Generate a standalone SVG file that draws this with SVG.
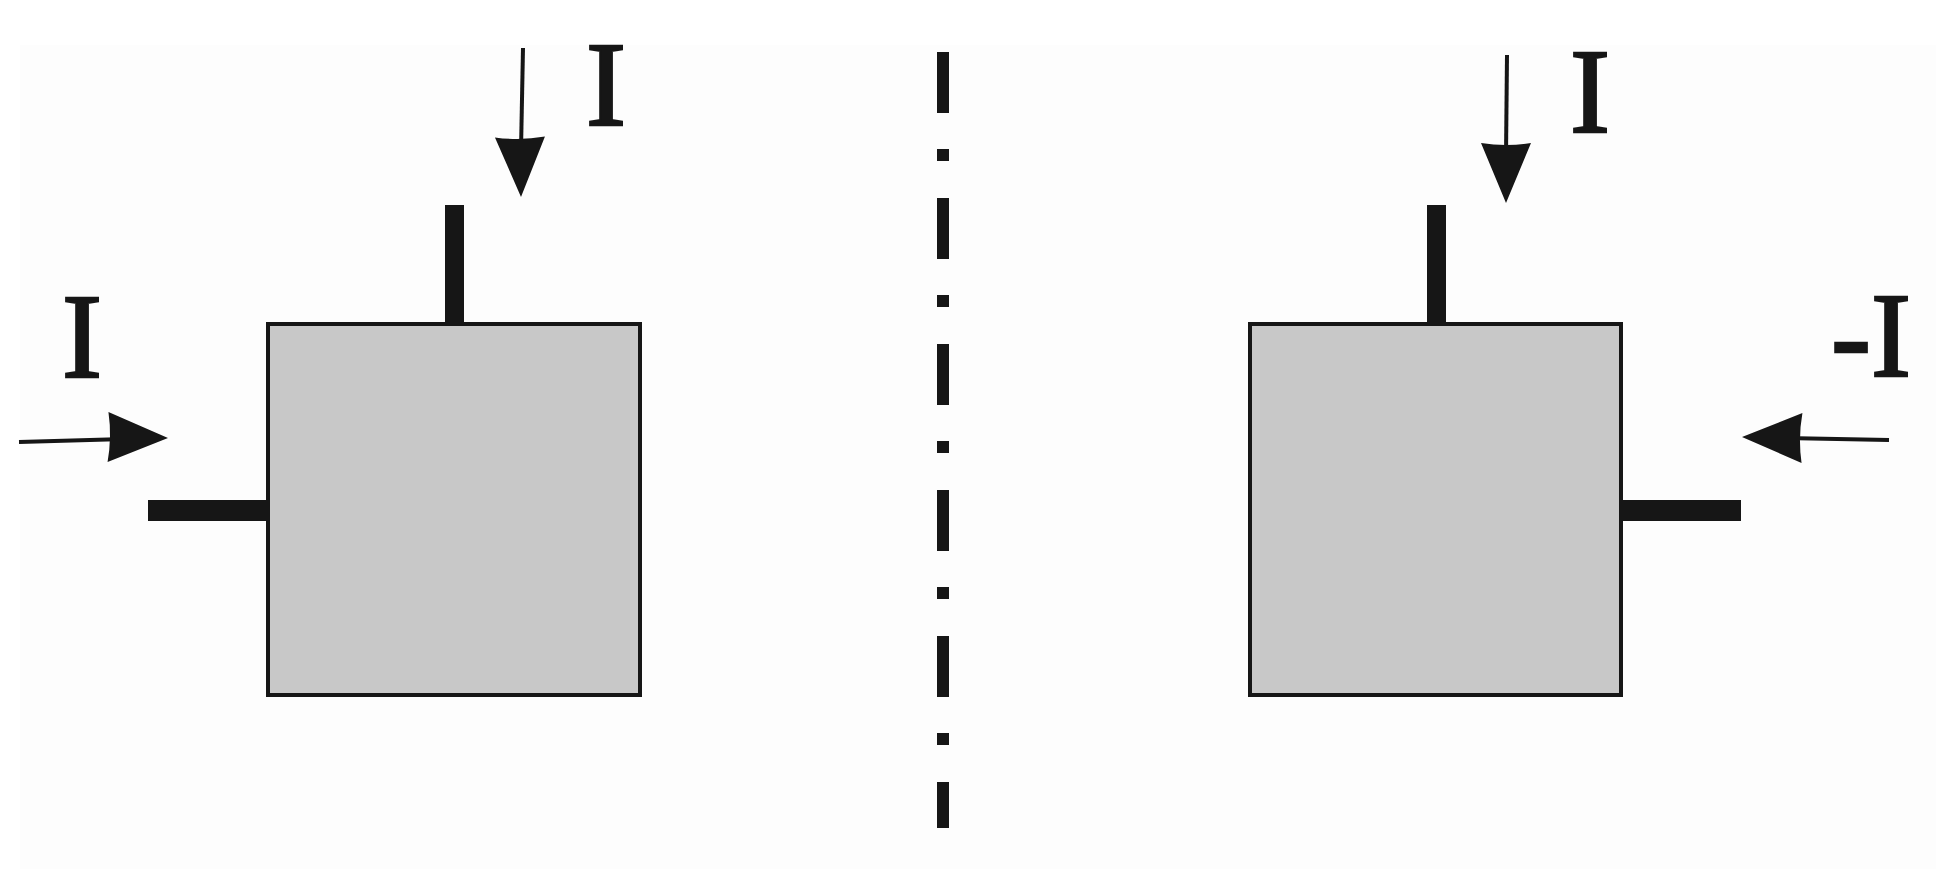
<svg xmlns="http://www.w3.org/2000/svg" width="1936" height="869" viewBox="0 0 1936 869">
<style>
.box{fill:#c8c8c8;stroke:#161616;stroke-width:4}
.stub{fill:#161616}
.wire{stroke:#161616;stroke-width:4;fill:none}
.head{fill:#161616}
.lbl{font-family:"Liberation Serif","Times New Roman",serif;font-size:120px;fill:#161616;stroke:#161616;stroke-width:2.5}
.axis{stroke:#161616;stroke-width:12;stroke-dasharray:61 36 12 37;fill:none}
</style>
<rect x="0" y="0" width="1936" height="869" fill="#ffffff"/>
<rect x="20" y="45" width="1916" height="824" fill="#fdfdfd"/>
<defs>
  <path id="ah" d="M0 0 L-25 -60 Q0 -56 25 -60 Z"/>
</defs>
<g id="connectors">
  <line class="axis" x1="943" y1="52" x2="943" y2="828"/>
  <g id="arrow-top-left">
    <line class="wire" x1="523" y1="48" x2="521" y2="150"/>
    <use href="#ah" class="head" transform="translate(521 197) rotate(-1)"/>
  </g>
  <g id="arrow-left">
    <line class="wire" x1="19" y1="442" x2="125" y2="439"/>
    <use href="#ah" class="head" transform="translate(168 438) rotate(-89)"/>
  </g>
  <g id="arrow-top-right">
    <line class="wire" x1="1507" y1="55" x2="1506" y2="155"/>
    <use href="#ah" class="head" transform="translate(1506 203)"/>
  </g>
  <g id="arrow-right">
    <line class="wire" x1="1889" y1="440" x2="1785" y2="438"/>
    <use href="#ah" class="head" transform="translate(1742 437) rotate(91)"/>
  </g>
</g>
<g id="node-left">
  <rect class="stub" x="445" y="205" width="19" height="120"/>
  <rect class="stub" x="148" y="500" width="122" height="21"/>
  <rect class="box" x="268" y="324" width="372" height="371"/>
</g>
<g id="node-right">
  <rect class="stub" x="1427" y="205" width="19" height="120"/>
  <rect class="stub" x="1619" y="500" width="122" height="21"/>
  <rect class="box" x="1250" y="324" width="371" height="371"/>
</g>
<g id="labels">
  <text class="lbl" x="606" y="125" text-anchor="middle">I</text>
  <text class="lbl" x="82" y="377" text-anchor="middle">I</text>
  <text class="lbl" x="1590" y="132" text-anchor="middle">I</text>
  <text class="lbl" x="1831" y="376">-I</text>
</g>
</svg>
